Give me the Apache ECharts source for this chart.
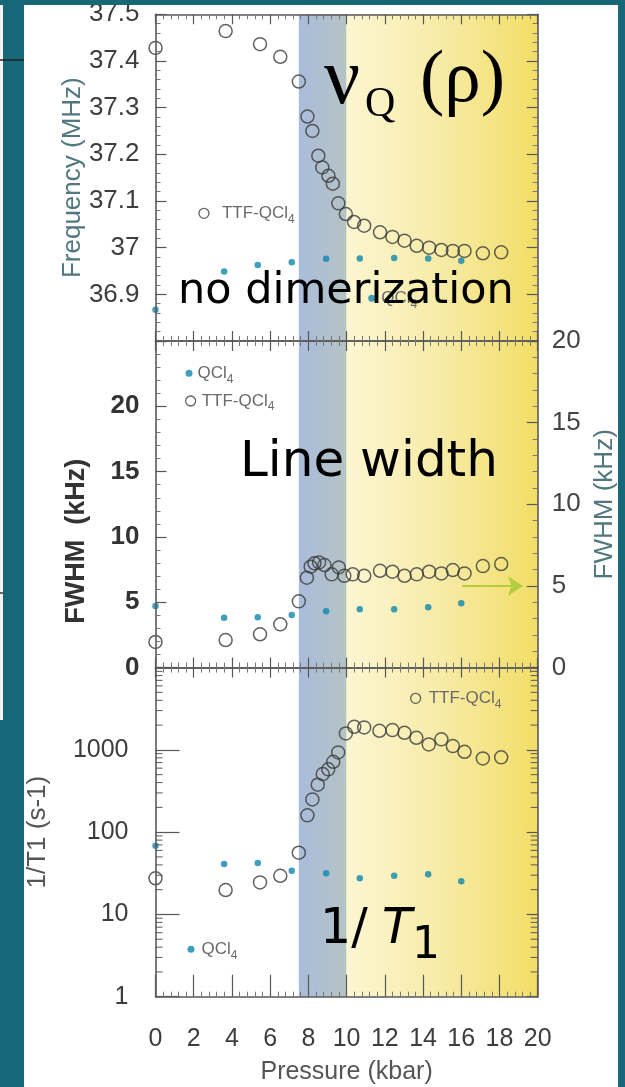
<!DOCTYPE html>
<html>
<head>
<meta charset="utf-8">
<script src="https://cdn.jsdelivr.net/npm/echarts@6/dist/echarts.min.js"></script>
<style>
  html, body { margin: 0; padding: 0; background: #ffffff; }
  #chart { width: 625px; height: 1087px; }
</style>
</head>
<body>
<div id="chart"></div>
<script>
// ---- Data -----------------------------------------------------------
// Quadrupole frequency (MHz) vs pressure (kbar)
const freqPressure = [0, 3.67, 5.47, 6.53, 7.5, 7.95, 8.21, 8.52, 8.73, 9.05, 9.28, 9.57, 9.96,
  10.39, 10.92, 11.75, 12.4, 13.03, 13.67, 14.32, 14.96, 15.56, 16.17, 17.13, 18.09];
const freqTTF = [37.428, 37.464, 37.436, 37.409, 37.356, 37.281, 37.25, 37.197, 37.172, 37.154,
  37.137, 37.095, 37.072, 37.055, 37.047, 37.033, 37.023, 37.015, 37.004, 37.0, 36.995, 36.993,
  36.993, 36.988, 36.99];

// QCl4 reference compound, measured at the same pressures in every panel
const qPressure = [0, 3.59, 5.35, 7.13, 8.93, 10.69, 12.49, 14.27, 16.0];
const freqQCl4 = [36.867, 36.949, 36.963, 36.969, 36.976, 36.977, 36.978, 36.977, 36.972];

// Line width FWHM (kHz)
const widthPressure = [0, 3.67, 5.47, 6.53, 7.5, 7.92, 8.12, 8.32, 8.56, 8.84, 9.22, 9.59, 9.88,
  10.32, 10.92, 11.75, 12.4, 13.03, 13.67, 14.32, 14.96, 15.56, 16.17, 17.13, 18.09];
const widthTTF = [1.96, 2.11, 2.55, 3.31, 5.07, 6.88, 7.72, 7.98, 8.05, 7.85, 7.14, 7.67, 7.03,
  7.14, 7.03, 7.41, 7.34, 7.03, 7.14, 7.34, 7.21, 7.47, 7.21, 7.77, 7.93];
const widthQCl4 = [4.71, 3.82, 3.85, 4.02, 4.31, 4.46, 4.46, 4.61, 4.92];

// Spin-lattice relaxation rate 1/T1 (s^-1)
const t1Pressure = [0, 3.67, 5.47, 6.53, 7.5, 7.95, 8.21, 8.49, 8.75, 9.04, 9.3, 9.56, 9.96,
  10.4, 10.92, 11.72, 12.4, 13.03, 13.65, 14.3, 14.96, 15.56, 16.17, 17.13, 18.09];
const t1TTF = [27.5, 19.8, 24.5, 29.5, 56.2, 160, 250, 377, 508, 580, 717, 932, 1585, 1909, 1877,
  1707, 1740, 1614, 1403, 1166, 1342, 1112, 948, 788, 811];
const t1QCl4 = [68.4, 41, 42.1, 34, 31.6, 27.5, 29.5, 30.7, 25.3];

// Pressure ranges of the intermediate and high-pressure regimes
const phaseBands = [[7.5, 10], [10, 20]];
// Minor ticks of the logarithmic 1/T1 axis
const logMinorTicks = [2, 3, 4, 5, 6, 7, 8, 9, 20, 30, 40, 50, 60, 70, 80, 90,
  200, 300, 400, 500, 600, 700, 800, 900, 2000, 3000, 4000, 5000, 6000, 7000, 8000, 9000];
// Arrow pointing to the right-hand FWHM scale
const arrowSpan = [16.05, 19.22];
const arrowLevel = 5;

// ---- Styles ---------------------------------------------------------
const INK = '#3b3b3b';
const DOT = '#0f87ad';
const AXIS = '#585858';
const LABEL = '#3d3d3d';
const NAME_TEAL = '#52787f';
const TEAL = '#166878';
const SANS = 'Liberation Sans';

const zip = (xs, ys) => xs.map((x, i) => [x, ys[i]]);

const bandFills = [
  { type: 'linear', x: 0, y: 0, x2: 1, y2: 0,
    colorStops: [{ offset: 0, color: '#a9bcdc' }, { offset: 1, color: '#b5c3c4' }] },
  { type: 'linear', x: 0, y: 0, x2: 1, y2: 0,
    colorStops: [{ offset: 0, color: '#fcf6d2' }, { offset: 0.5, color: '#f7eba6' }, { offset: 1, color: '#f2de66' }] }
];

// Grid rectangles (px)
const PLOT_LEFT = 155.5, PLOT_WIDTH = 382.2;
const grids = [
  { left: PLOT_LEFT, width: PLOT_WIDTH, top: 14.3, height: 326.7 },
  { left: PLOT_LEFT, width: PLOT_WIDTH, top: 341, height: 326.6 },
  { left: PLOT_LEFT, width: PLOT_WIDTH, top: 667.6, height: 329.1 }
].map(g => Object.assign({ containLabel: false, outerBoundsMode: 'none' }, g));

function pressureAxis(gridIndex, position, tickLen, withLabels) {
  return {
    type: 'value', gridIndex, position, min: 0, max: 20, interval: 2, z: 5,
    axisLine: { show: true, onZero: false, lineStyle: { color: AXIS, width: 1.6 } },
    axisTick: { show: true, inside: true, length: tickLen, lineStyle: { color: AXIS, width: 1.2 } },
    minorTick: { show: true, splitNumber: 5, length: 5, lineStyle: { color: '#777', width: 1 } },
    splitLine: { show: false }, minorSplitLine: { show: false },
    axisLabel: withLabels
      ? { show: true, margin: 30, fontSize: 25, color: LABEL, fontFamily: SANS }
      : { show: false },
    name: withLabels ? 'Pressure (kbar)' : '',
    nameLocation: 'middle', nameGap: 63, nameMoveOverlap: false,
    nameTextStyle: { fontSize: 25, color: '#555', fontFamily: SANS }
  };
}

function valueAxis(gridIndex, position, extra) {
  return Object.assign({
    gridIndex, position, z: 5, nameMoveOverlap: false,
    axisLine: { show: true, onZero: false, lineStyle: { color: AXIS, width: 1.6 } },
    axisTick: { show: true, inside: true, length: 11, lineStyle: { color: AXIS, width: 1.2 } },
    minorTick: { show: true, splitNumber: 5, length: 5, lineStyle: { color: '#777', width: 1 } },
    splitLine: { show: false }, minorSplitLine: { show: false },
    axisLabel: { show: false }
  }, extra);
}

const xAxes = [
  pressureAxis(0, 'bottom', 10, false),
  pressureAxis(0, 'top', 10, false),
  pressureAxis(1, 'bottom', 10, false),
  pressureAxis(1, 'top', 10, false),
  pressureAxis(2, 'bottom', 22, true),
  pressureAxis(2, 'top', 10, false)
];

const yAxes = [
  // frequency, left
  valueAxis(0, 'left', {
    type: 'value', min: 36.8, max: 37.5, interval: 0.1,
    axisLabel: { show: true, margin: 16, fontSize: 26, color: LABEL, fontFamily: SANS,
      formatter: v => v < 36.85 ? '' : String(Number(v.toFixed(1))) },
    name: 'Frequency (MHz)', nameLocation: 'middle', nameGap: 70, nameRotate: 90,
    nameTextStyle: { fontSize: 26, color: NAME_TEAL, fontFamily: SANS }
  }),
  // frequency, right mirror
  valueAxis(0, 'right', { type: 'value', min: 36.8, max: 37.5, interval: 0.1 }),
  // FWHM, left (bold)
  valueAxis(1, 'left', {
    type: 'value', min: 0, max: 25, interval: 5,
    axisLabel: { show: true, margin: 16, fontSize: 26, fontWeight: 'bold', color: '#333', fontFamily: SANS,
      formatter: v => v > 22 ? '' : String(v) },
    name: 'FWHM  (kHz)', nameLocation: 'middle', nameGap: 65, nameRotate: 90,
    nameTextStyle: { fontSize: 27, fontWeight: 'bold', color: '#333', fontFamily: SANS, padding: [0, 74, 0, 0] }
  }),
  // FWHM, right
  valueAxis(1, 'right', {
    type: 'value', min: 0, max: 20, interval: 5,
    axisLabel: { show: true, margin: 14, fontSize: 26, color: '#444', fontFamily: SANS },
    name: 'FWHM (kHz)', nameLocation: 'middle', nameGap: 54, nameRotate: 90,
    nameTextStyle: { fontSize: 26, color: NAME_TEAL, fontFamily: SANS }
  }),
  // 1/T1, left (log)
  valueAxis(2, 'left', {
    type: 'log', logBase: 10, min: 1, max: 10000,
    axisTick: { show: true, inside: true, length: 24, lineStyle: { color: AXIS, width: 1.2 } },
    minorTick: { show: false },
    axisLabel: { show: true, margin: 27, fontSize: 25, color: LABEL, fontFamily: SANS,
      formatter: v => v > 5000 ? '' : String(v) },
    name: '1/T1 (s-1)', nameLocation: 'middle', nameGap: 105, nameRotate: 90,
    nameTextStyle: { fontSize: 26, color: '#555', fontFamily: SANS }
  }),
  // 1/T1, right mirror
  valueAxis(2, 'right', {
    type: 'log', logBase: 10, min: 1, max: 10000,
    minorTick: { show: false }
  })
];

// Shaded pressure regimes, drawn beneath the data of each panel
function bandSeries(axisIndex, yRef) {
  return {
    type: 'custom', xAxisIndex: axisIndex, yAxisIndex: axisIndex, z: 1, silent: true,
    data: phaseBands, encode: { x: [0, 1] },
    renderItem: (params, api) => {
      const cs = params.coordSys;
      const x0 = api.coord([api.value(0), yRef])[0];
      const x1 = api.coord([api.value(1), yRef])[0];
      return { type: 'rect', shape: { x: x0, y: cs.y, width: x1 - x0, height: cs.height },
        style: { fill: bandFills[params.dataIndex] } };
    }
  };
}

function ttfSeries(axisIndex, data) {
  return {
    name: 'TTF-QCl4', type: 'scatter', xAxisIndex: axisIndex, yAxisIndex: axisIndex, z: 3,
    symbol: 'circle', symbolSize: 13, data,
    itemStyle: { color: 'rgba(0,0,0,0)', borderColor: INK, borderWidth: 1.5 },
    emphasis: { disabled: true }
  };
}
function qSeries(axisIndex, data) {
  return {
    name: 'QCl4', type: 'scatter', xAxisIndex: axisIndex, yAxisIndex: axisIndex, z: 3,
    symbol: 'circle', symbolSize: 6.5, data,
    itemStyle: { color: DOT },
    emphasis: { disabled: true }
  };
}

const series = [
  bandSeries(0, 37), bandSeries(2, 5), bandSeries(4, 10),
  ttfSeries(0, zip(freqPressure, freqTTF)),
  qSeries(0, zip(qPressure, freqQCl4)),
  ttfSeries(2, zip(widthPressure, widthTTF)),
  qSeries(2, zip(qPressure, widthQCl4)),
  ttfSeries(4, zip(t1Pressure, t1TTF)),
  qSeries(4, zip(qPressure, t1QCl4)),
  // arrow at the right FWHM scale
  {
    type: 'line', xAxisIndex: 2, yAxisIndex: 3, data: [], z: 4, silent: true,
    markLine: {
      silent: true, symbol: ['none', 'arrow'], symbolSize: 15,
      label: { show: false },
      lineStyle: { color: '#b4cd3e', width: 2, type: 'solid' },
      data: [[{ coord: [arrowSpan[0], arrowLevel] }, { coord: [arrowSpan[1], arrowLevel] }]]
    }
  },
  // minor ticks of the logarithmic axis
  {
    type: 'custom', xAxisIndex: 4, yAxisIndex: 4, z: 6, silent: true,
    data: logMinorTicks.map(v => [0, v]), encode: { x: 0, y: 1 },
    renderItem: (params, api) => {
      const cs = params.coordSys;
      const y = api.coord([0, api.value(1)])[1];
      const st = { stroke: AXIS, lineWidth: 1 };
      return { type: 'group', children: [
        { type: 'line', shape: { x1: cs.x, y1: y, x2: cs.x + 7, y2: y }, style: st },
        { type: 'line', shape: { x1: cs.x + cs.width - 7, y1: y, x2: cs.x + cs.width, y2: y }, style: st }
      ] };
    }
  }
];

// Legends
const legendText = {
  color: '#6a6a6a', fontSize: 17, lineHeight: 24, fontFamily: SANS,
  rich: { sub: { fontSize: 12, lineHeight: 12, verticalAlign: 'bottom', color: '#6a6a6a', fontFamily: SANS } }
};
const subFormatter = name => name.replace(/4$/, '{sub|4}');
function legendAt(name, cx, cy, pad) {
  const open = name === 'TTF-QCl4';
  const size = open ? 10 : 7;
  return {
    data: [open
      ? { name, icon: 'circle', itemStyle: { color: 'rgba(0,0,0,0)', borderColor: INK, borderWidth: 1.3 } }
      : { name, icon: 'circle', itemStyle: { color: DOT } }],
    left: cx - size / 2, top: cy - 12, padding: 0, itemWidth: size, itemHeight: size,
    selectedMode: false, z: 8,
    formatter: subFormatter,
    textStyle: Object.assign({ padding: [0, 0, 0, pad] }, legendText)
  };
}
const legends = [
  legendAt('TTF-QCl4', 203.3, 213.3, 8),
  legendAt('QCl4', 371.7, 298.3, 1),
  legendAt('QCl4', 189, 373.3, 0),
  legendAt('TTF-QCl4', 190, 401, 1),
  legendAt('TTF-QCl4', 415, 698.3, 3),
  legendAt('QCl4', 191, 949.3, 2)
];

// Panel titles and the slide frame
function label(text, x, y, size, family, extra) {
  return { type: 'text', x, y, z: 60, silent: true,
    style: Object.assign({ text, fontSize: size, fontFamily: family, fill: '#000',
      align: 'left', verticalAlign: 'middle' }, extra || {}) };
}
const graphics = [
  label('ν', 324, 82, 80, 'Liberation Serif'),
  label('Q', 365, 105, 42, 'Liberation Serif'),
  label('(ρ)', 420, 82, 73, 'Liberation Serif'),
  label('no dimerization', 178, 292, 43, 'DejaVu Sans'),
  label('Line width', 240, 463, 50, 'DejaVu Sans'),
  label('1/', 320, 930, 49, 'DejaVu Sans'),
  label('T', 382, 930, 49, 'DejaVu Sans', { fontStyle: 'italic' }),
  label('1', 412, 947, 44, 'DejaVu Sans'),
  // slide frame
  { type: 'rect', z: 100, silent: true, shape: { x: 0, y: 0, width: 625, height: 5 }, style: { fill: TEAL } },
  { type: 'rect', z: 100, silent: true, shape: { x: 0, y: 0, width: 24, height: 1087 }, style: { fill: TEAL } },
  { type: 'rect', z: 100, silent: true, shape: { x: 618, y: 0, width: 7, height: 1087 }, style: { fill: TEAL } },
  { type: 'rect', z: 101, silent: true, shape: { x: 0, y: 5, width: 3, height: 715 }, style: { fill: '#f3f3f3' } },
  { type: 'line', z: 102, silent: true, shape: { x1: 0, y1: 60, x2: 24, y2: 60 }, style: { stroke: '#222', lineWidth: 1.5 } },
  { type: 'line', z: 102, silent: true, shape: { x1: 0, y1: 593, x2: 3, y2: 593 }, style: { stroke: '#333', lineWidth: 1.5 } }
];

const chart = echarts.init(document.getElementById('chart'), null, { renderer: 'canvas' });
chart.setOption({
  animation: false,
  backgroundColor: '#ffffff',
  textStyle: { fontFamily: SANS },
  grid: grids,
  xAxis: xAxes,
  yAxis: yAxes,
  legend: legends,
  series,
  graphic: graphics
});
</script>
</body>
</html>
